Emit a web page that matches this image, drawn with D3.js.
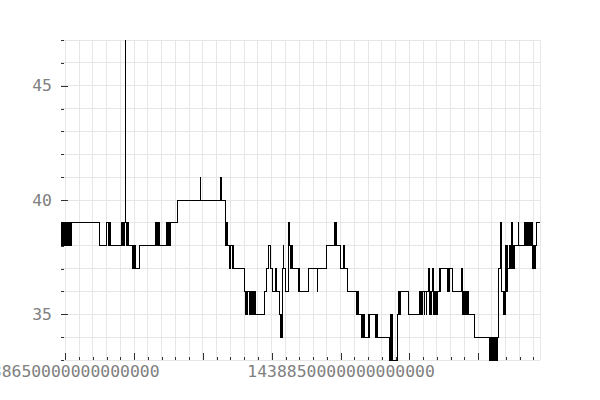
<!DOCTYPE html>
<html><head><meta charset="utf-8">
<script src="https://cdn.jsdelivr.net/npm/d3@7/dist/d3.min.js"></script>
<style>body{margin:0;background:#fff}svg{display:block}</style>
</head><body>
<svg id="chart" width="600" height="400"></svg>
<script>
// Readings: [seconds after START_SEC, value]
const START_SEC = 1438646880;
const readings = [
[0,39],[581,38],[1162,39],[1744,38],[2325,39],[2906,38],[3487,39],[4068,38],[4577,39],[5594,38],[6175,39],[6756,38],[7410,39],
[27970,38],[33056,39],[34363,38],[35090,39],[35962,38],
[43808,39],[44317,38],[44898,39],[45479,38],[46060,39],[46714,47],[47005,39],[47513,38],[48022,39],[48603,38],[48821,39],[49184,38],
[51582,37],[52163,38],[52744,37],[53325,38],[53906,37],[56885,38],
[68509,39],[69090,38],[69671,39],[70253,38],[70834,39],[71415,38],
[76500,39],[77445,38],[77953,39],[79043,38],[79770,39],[85000,40],
[100984,41],[101565,40],[115877,41],[116385,40],
[119363,39],[119872,38],[120381,39],[120890,38],[122561,37],[122924,38],[124232,37],[124886,38],[125539,37],
[133458,36],[133967,35],[134475,36],[134984,35],[135565,36],[136945,35],[137526,36],[138108,35],[138689,36],[139270,35],[139851,36],[140432,35],[141014,36],[141595,35],
[147480,36],[148933,37],[150603,38],[152202,37],[153800,36],[155471,37],[156198,36],[158595,35],[159104,34],[159612,35],[160121,34],[160775,37],[161501,38],[161864,37],[162736,36],
[165424,39],[165860,38],[166369,37],[166877,38],[167386,37],[167894,38],[168330,37],
[172181,36],[172616,37],[173125,36],[179809,37],[186202,36],[186565,37],[192740,38],
[198335,39],[198916,38],[199497,39],[200078,38],[203057,37],[204873,38],[205963,37],[207997,36],
[214535,35],[215407,36],[216352,35],[218168,34],[218677,35],[219185,34],[219694,35],[220202,34],
[223036,35],[223617,34],[224198,35],[228484,34],[229065,35],[229937,34],
[238801,33],[239456,35],[239891,33],[240327,35],[240690,33],
[244322,35],[245339,36],[246138,35],[246647,36],[252604,35],
[260596,36],[261104,35],[261613,36],[262121,35],[262630,36],[263720,35],[264228,36],[265173,35],[265681,36],[266989,37],[267497,35],[268079,36],[268587,35],[269096,36],[270258,37],[270694,35],[271202,36],[271711,35],[272220,36],[272728,35],[273237,36],
[274980,37],[275489,36],[275997,37],[280792,36],[281301,37],[281809,36],[282245,37],[284788,36],
[290818,37],[291327,36],[291762,35],[292271,36],[292780,35],[293288,36],[293797,35],[294305,36],[294814,35],[295322,36],[295831,35],
[300045,34],
[311451,33],[311959,34],[312468,33],[312976,34],[313485,33],[313993,34],[314502,33],[315010,34],[315519,33],[316028,34],[316536,33],[317045,34],
[317481,36],[318062,37],[319297,39],[319805,36],[321331,35],[322057,36],[322784,35],[323147,38],[323656,36],[324164,38],[324600,37],
[325981,38],[326489,37],[326998,38],[327506,39],[327869,37],[328378,38],[328887,37],[329395,38],
[332011,39],[332446,38],
[336878,39],[337387,38],[337895,39],[338404,38],[338912,39],[339421,38],[339929,39],[340438,38],[340946,39],[341455,38],[341964,39],
[342399,38],[342908,37],[343417,38],[343925,37],[344506,38],[345305,39],[347994,39]
];
const xLabelTicks = [1438650000000000000, 1438850000000000000];
const yLabelTicks = [35, 40, 45];

const data = readings.map(([s, v]) => ({t: (START_SEC + s) * 1e9, v}));

const svg = d3.select("#chart");
const L = 61, R = 540, T = 40, B = 360;

const x = d3.scaleLinear().domain(d3.extent(data, d => d.t)).range([L, R]);
const y = d3.scaleLinear().domain(d3.extent(data, d => d.v)).range([B, T]);

const xMinor = x.ticks(35);
const xMajor = xMinor.filter(t => Math.round(t / 1e13) % 5 === 0);
const yMinor = d3.range(y.domain()[0], y.domain()[1] + 1, 1);
const yMajor = yMinor.filter(v => v % 5 === 0);

const grid = svg.append("g").attr("shape-rendering", "crispEdges").attr("stroke", "#e6e6e6").attr("stroke-width", 1);
grid.selectAll(".gx").data(xMinor).join("line")
  .attr("x1", d => x(d)).attr("x2", d => x(d)).attr("y1", T).attr("y2", B);
grid.append("line").attr("x1", R).attr("x2", R).attr("y1", T).attr("y2", B);
grid.selectAll(".gy").data(yMinor).join("line")
  .attr("y1", d => y(d)).attr("y2", d => y(d)).attr("x1", L).attr("x2", R);

function styleAxis(g) {
  g.select(".domain").remove();
  g.attr("font-family", "'DejaVu Sans Mono', monospace").attr("font-size", 16.4);
  g.selectAll("line").attr("stroke", "#333").attr("shape-rendering", "crispEdges");
  g.selectAll("text").attr("fill", "#808080");
}

svg.append("g").attr("transform", `translate(0,${B})`)
  .call(d3.axisBottom(x).tickValues(xMinor).tickSize(-3).tickFormat(""))
  .call(styleAxis);
svg.append("g").attr("transform", `translate(0,${B})`)
  .call(d3.axisBottom(x).tickValues(xMajor).tickSize(-7).tickFormat(""))
  .call(styleAxis);
svg.append("g").attr("transform", `translate(0,${B})`)
  .call(d3.axisBottom(x).tickValues(xLabelTicks).tickSize(0).tickPadding(5).tickFormat(d => d.toString()))
  .call(styleAxis);

svg.append("g").attr("transform", `translate(${L},0)`)
  .call(d3.axisRight(y).tickValues(yMinor).tickSize(3).tickFormat(""))
  .call(styleAxis);
svg.append("g").attr("transform", `translate(${L},0)`)
  .call(d3.axisRight(y).tickValues(yMajor).tickSize(7).tickFormat(""))
  .call(styleAxis);
svg.append("g").attr("transform", `translate(${L},0)`)
  .call(d3.axisLeft(y).tickValues(yLabelTicks).tickSize(0).tickPadding(9).tickFormat(d3.format("d")))
  .call(styleAxis);

const line = d3.line().x(d => x(d.t)).y(d => y(d.v)).curve(d3.curveStepAfter);
svg.append("path").datum(data)
  .attr("fill", "none").attr("stroke", "#000").attr("stroke-width", 1)
  .attr("shape-rendering", "crispEdges")
  .attr("d", line);
</script>
</body></html>
